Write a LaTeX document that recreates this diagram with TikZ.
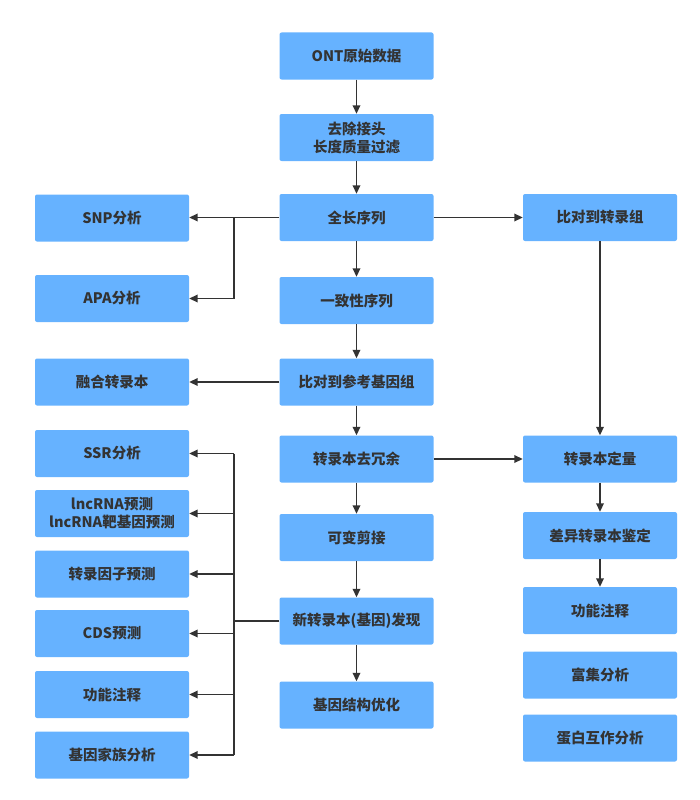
\documentclass[tikz,border=0pt]{standalone}
\usepackage{fontspec}
\setmainfont{Noto Sans CJK SC}
\usetikzlibrary{arrows.meta}
\definecolor{boxblue}{RGB}{102,178,255}
\definecolor{txtgray}{RGB}{51,51,51}
\definecolor{lngray}{RGB}{51,51,51}
\begin{document}
\begin{tikzpicture}[x=1pt,y=-1pt,
  box/.style={rectangle, rounded corners=2pt, fill=boxblue, minimum width=154pt, minimum height=47pt, inner sep=0pt, align=center, text=txtgray, font=\fontsize{14.5}{18}\selectfont\bfseries},
  conn/.style={draw=lngray, line width=1.8pt, -{Triangle[length=8.5pt,width=7.5pt]}},
  plain/.style={draw=lngray, line width=1.8pt}]
\useasboundingbox (0,0) rectangle (700,800);
% middle column
\node[box] (ont) at (356.5,56) {ONT原始数据};
\node[box] (qc) at (356.5,137.5) {去除接头\\长度质量过滤};
\node[box] (full) at (356.5,217.5) {全长序列};
\node[box] (cons) at (356.5,300.5) {一致性序列};
\node[box] (ref) at (356.5,382) {比对到参考基因组};
\node[box] (red) at (356.5,459) {转录本去冗余};
\node[box] (as) at (356.5,537.5) {可变剪接};
\node[box] (novel) at (356.5,621) {新转录本(基因)发现};
\node[box] (opt) at (356.5,705) {基因结构优化};
% left column
\node[box] (snp) at (112,218) {SNP分析};
\node[box] (apa) at (112,298.5) {APA分析};
\node[box] (fus) at (112,382) {融合转录本};
\node[box] (ssr) at (112,453.5) {SSR分析};
\node[box] (lnc) at (112,513.5) {lncRNA预测\\lncRNA靶基因预测};
\node[box] (tf) at (112,574) {转录因子预测};
\node[box] (cds) at (112,633.5) {CDS预测};
\node[box] (fun1) at (112,694.5) {功能注释};
\node[box] (fam) at (112,755) {基因家族分析};
% right column
\node[box] (tra) at (600,217.5) {比对到转录组};
\node[box] (quant) at (600,459) {转录本定量};
\node[box] (diff) at (600,535.5) {差异转录本鉴定};
\node[box] (fun2) at (600,610.5) {功能注释};
\node[box] (enr) at (600,675) {富集分析};
\node[box] (ppi) at (600,738) {蛋白互作分析};
% main chain
\draw[conn] (ont) -- (qc);
\draw[conn] (qc) -- (full);
\draw[conn] (full) -- (cons);
\draw[conn] (cons) -- (ref);
\draw[conn] (ref) -- (red);
\draw[conn] (red) -- (as);
\draw[conn] (as) -- (novel);
\draw[conn] (novel) -- (opt);
% right
\draw[conn] (full) -- (tra);
\draw[conn] (tra) -- (quant);
\draw[conn] (red) -- (quant);
\draw[conn] (quant) -- (diff);
\draw[conn] (diff) -- (fun2);
% left from full
\coordinate (b1) at (234,217.5);
\draw[conn] (full.west) -- (snp.east |- full.west);
\draw[conn] (b1) |- (apa.east);
% fusion
\draw[conn] (ref) -- (fus);
% bus from novel
\coordinate (b2) at (234,621);
\draw[plain] (novel.west) -- (b2);
\draw[plain] (b2 |- ssr.east) -- (b2 |- fam.east);
\foreach \n in {ssr,lnc,tf,cds,fun1,fam}{
  \draw[conn] (b2 |- \n.east) -- (\n.east);
}
\end{tikzpicture}
\end{document}
